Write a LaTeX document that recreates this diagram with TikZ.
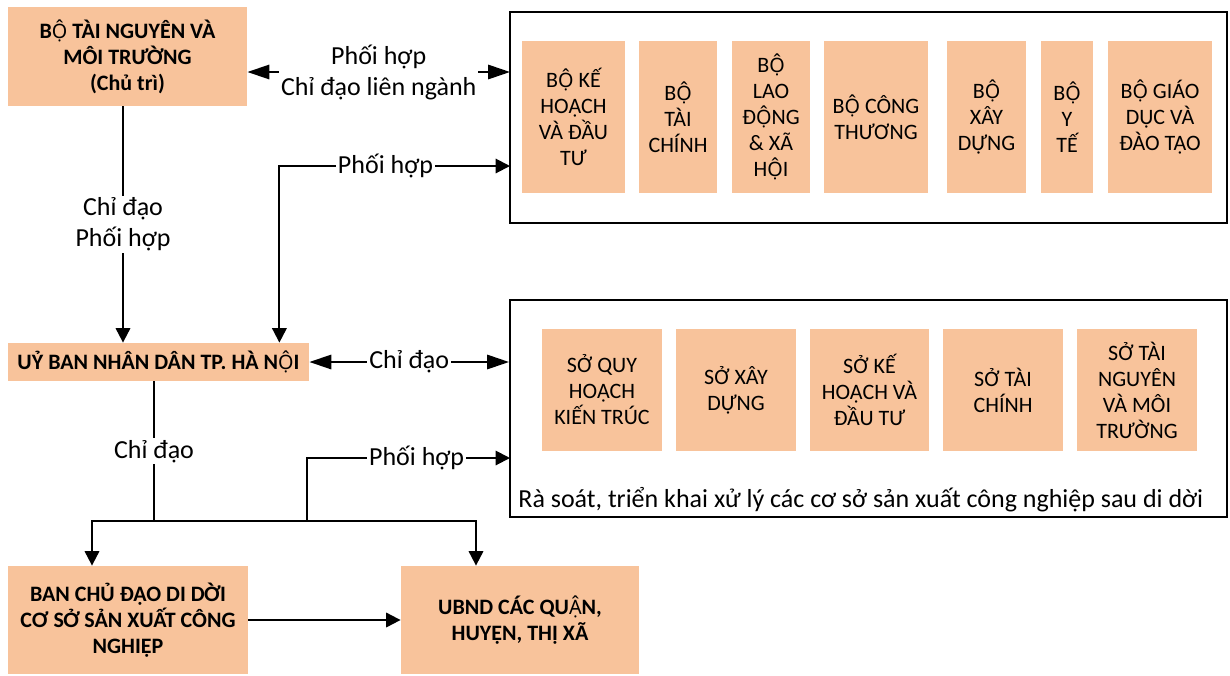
\documentclass[tikz,border=0pt]{standalone}
\usepackage{fontspec}
\setmainfont{Carlito}
\newfontfamily\vifont{Noto Sans}[Scale=0.9]
\newcommand{\Ocd}{{\vifont Ộ}}
\newcommand{\Acd}{{\vifont Ậ}}
\usetikzlibrary{arrows.meta,positioning}
\definecolor{peach}{HTML}{F8C39B}
\tikzset{
  unit/.style={fill=peach,inner sep=1pt,align=center,font=\fontsize{11}{13}\selectfont},
  head/.style={unit,font=\fontsize{11}{13}\selectfont\bfseries},
  group/.style={draw,line width=1pt,inner sep=0pt},
  lbl/.style={fill=white,inner sep=1pt,align=center,font=\fontsize{13}{15.5}\selectfont},
  ln/.style={line width=1pt},
  arr/.style={ln,-{Triangle[length=7.2pt,width=7.2pt]}},
  arrb/.style={ln,{Triangle[length=7.2pt,width=7.2pt]}-{Triangle[length=7.2pt,width=7.2pt]}},
  arrw/.style={ln,{Triangle[length=11pt,width=7.2pt]}-{Triangle[length=11pt,width=7.2pt]}},
}
\begin{document}
\begin{tikzpicture}[x=0.5pt,y=-0.5pt]
\useasboundingbox (0,0) rectangle (1230,675);
% main bodies
\node[head,minimum width=119.5pt,minimum height=49.5pt] (btn) at (127.5,56.5) {B\Ocd{} TÀI NGUYÊN VÀ\\MÔI TRƯỜNG\\(Chủ trì)};
\node[head,minimum width=150.5pt,minimum height=19pt] (ubnd) at (158.5,362) {UỶ BAN NHÂN DÂN TP. HÀ N\Ocd{}I};
\node[head,minimum width=120pt,minimum height=54pt] (ban) at (128,620) {BAN CHỦ ĐẠO DI DỜI\\CƠ SỞ SẢN XUẤT CÔNG\\NGHIỆP};
\node[head,minimum width=119pt,minimum height=54pt] (quan) at (520,620) {UBND CÁC QU\Acd{}N,\\HUYỆN, THỊ XÃ};
% ministries
\node[group,minimum width=358.5pt,minimum height=105.5pt] (g1) at (868.5,117.5) {};
\node[unit,minimum width=51.5pt,minimum height=76pt] (bkh) at (573.5,117) {B\Ocd{} KẾ\\HOẠCH\\VÀ ĐẦU\\TƯ};
\node[unit,minimum width=39pt,minimum height=76pt] (btc) at (678,117) {B\Ocd{}\\TÀI\\CHÍNH};
\node[unit,minimum width=39pt,minimum height=76pt] (bld) at (771,117) {B\Ocd{}\\LAO\\Đ\Ocd{}NG\\\& XÃ\\H\Ocd{}I};
\node[unit,minimum width=52pt,minimum height=76pt] (bct) at (876,117) {B\Ocd{} CÔNG\\THƯƠNG};
\node[unit,minimum width=39.5pt,minimum height=76pt] (bxd) at (986.5,117) {B\Ocd{}\\XÂY\\DỰNG};
\node[unit,minimum width=26pt,minimum height=76pt] (byt) at (1067,117) {B\Ocd{}\\Y\\TẾ};
\node[unit,minimum width=52pt,minimum height=76pt] (bgd) at (1160,117) {B\Ocd{} GIÁO\\DỤC VÀ\\ĐÀO TẠO};
% city departments
\node[group,minimum width=358.5pt,minimum height=108.5pt] (g2) at (868.5,408.5) {};
\node[unit,minimum width=60pt,minimum height=61pt] (sqh) at (602,390) {SỞ QUY\\HOẠCH\\KIẾN TRÚC};
\node[unit,minimum width=60pt,minimum height=61pt] (sxd) at (736,390) {SỞ XÂY\\DỰNG};
\node[unit,minimum width=59.5pt,minimum height=61pt] (skh) at (869.5,390) {SỞ KẾ\\HOẠCH VÀ\\ĐẦU TƯ};
\node[unit,minimum width=60pt,minimum height=61pt] (stc) at (1003,390) {SỞ TÀI\\CHÍNH};
\node[unit,minimum width=60pt,minimum height=61pt] (stn) at (1137,390) {SỞ TÀI\\NGUYÊN\\VÀ MÔI\\TRƯỜNG};
\node[lbl,fill=none,anchor=west] (cap) at (516,500) {Rà soát, triển khai xử lý các cơ sở sản xuất công nghiệp sau di dời};
% connectors
\coordinate (r1) at (510,72);
\coordinate (p1) at (510,166);
\coordinate (p2) at (510,458);
\coordinate (j) at (154,521);
\draw[arrw] (r1 -| btn.east) -- node[lbl]{Phối hợp\\Chỉ đạo liên ngành} (r1);
\draw[arrb] (p1) -| node[lbl,pos=0.27]{Phối hợp} ([xshift=-15pt]ubnd.north east);
\draw[arr] ([xshift=-2.25pt]btn.south) -- node[lbl]{Chỉ đạo\\Phối hợp} ([xshift=-2.25pt]btn.south |- ubnd.north);
\draw[arrw] (ubnd.east) -- node[lbl]{Chỉ đạo} (ubnd.east -| g2.west);
\draw[ln] ([xshift=-2.25pt]ubnd.south) -- node[lbl]{Chỉ đạo} (j);
\draw[arr] (j) -| ([xshift=-18pt]ban.north);
\draw[arr] (j) -| ([xshift=-22pt]quan.north);
\draw[arr] ([xshift=76.5pt]j) |- node[lbl,pos=0.77]{Phối hợp} (p2);
\draw[arr] (ban.east) -- (quan.west);
\end{tikzpicture}
\end{document}
